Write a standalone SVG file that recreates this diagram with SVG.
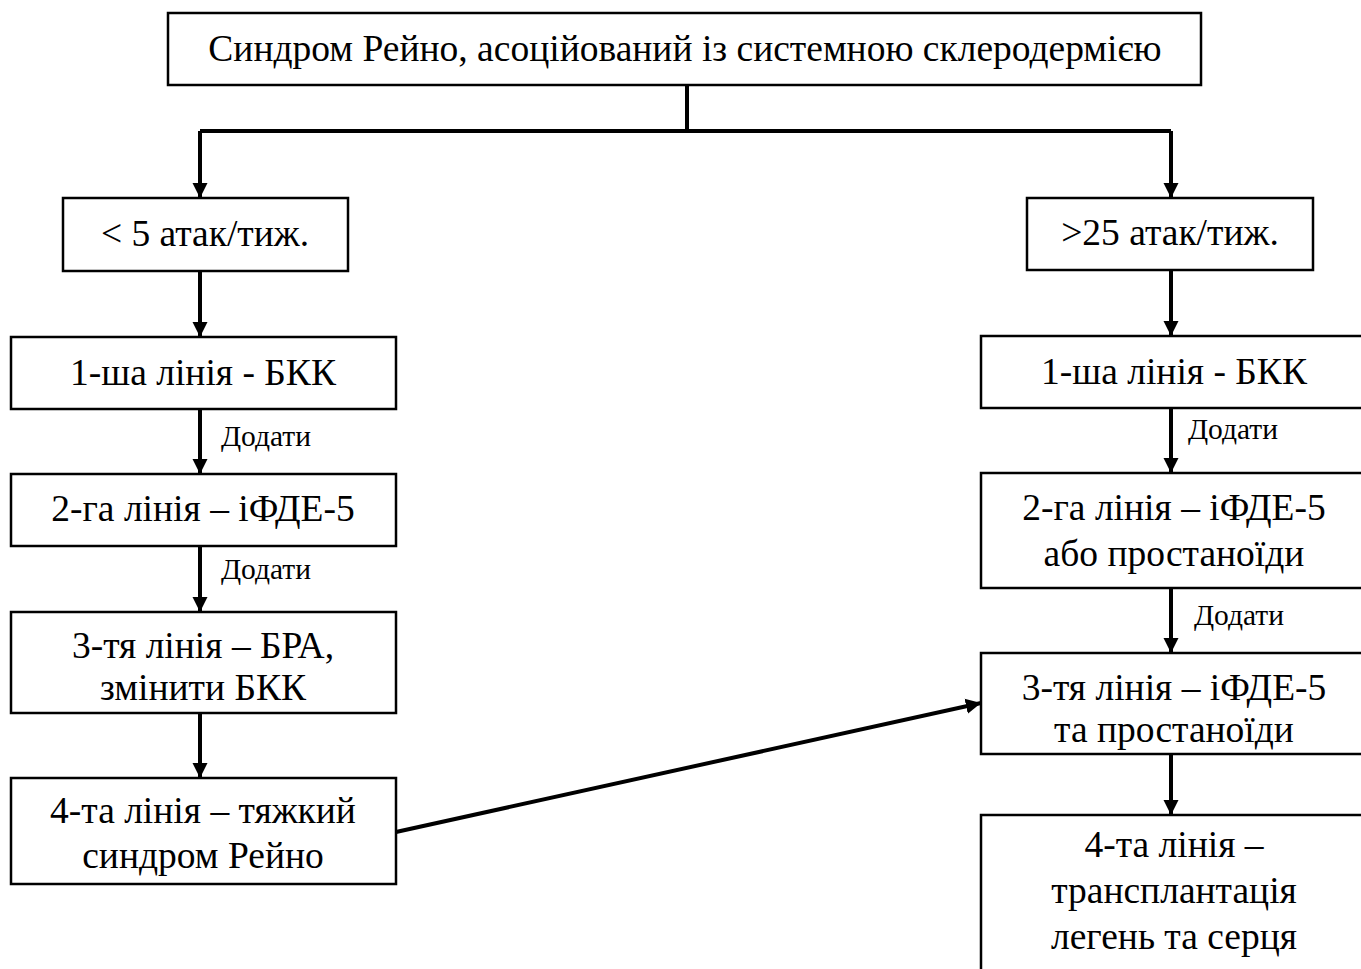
<svg xmlns="http://www.w3.org/2000/svg" width="1361" height="969" viewBox="0 0 1361 969">
<defs>
<style>
.box{fill:#fff;stroke:#000;stroke-width:2.5}
.t{font-family:"Liberation Serif","Times New Roman",serif;font-size:37.5px;fill:#000;text-anchor:middle}
.s{font-family:"Liberation Serif","Times New Roman",serif;font-size:29.5px;fill:#000}
.c{fill:none;stroke:#000;stroke-width:4}
</style>
<marker id="ah" viewBox="0 0 10 10" refX="10" refY="5" markerWidth="3.8" markerHeight="4" markerUnits="strokeWidth" orient="auto">
<path d="M0,0 L10,5 L0,10 z" fill="#000"/>
</marker>
</defs>
<rect width="1361" height="969" fill="#fff"/>
<g id="connectors">
<path class="c" d="M687,85 V131"/>
<path class="c" d="M200,131 H1171"/>
<path class="c" d="M200,131 V198" marker-end="url(#ah)"/>
<path class="c" d="M1171,131 V198" marker-end="url(#ah)"/>
<path class="c" d="M200,271 V337" marker-end="url(#ah)"/>
<path class="c" d="M200,409 V474" marker-end="url(#ah)"/>
<path class="c" d="M200,546 V612" marker-end="url(#ah)"/>
<path class="c" d="M200,713 V778" marker-end="url(#ah)"/>
<path class="c" d="M1171,270 V336" marker-end="url(#ah)"/>
<path class="c" d="M1171,408 V473" marker-end="url(#ah)"/>
<path class="c" d="M1171,588 V653" marker-end="url(#ah)"/>
<path class="c" d="M1171,754 V815" marker-end="url(#ah)"/>
<path class="c" d="M396,832 L981,703" marker-end="url(#ah)"/>
<text class="s" x="221" y="446">Додати</text>
<text class="s" x="221" y="579">Додати</text>
<text class="s" x="1188" y="439">Додати</text>
<text class="s" x="1194" y="625">Додати</text>
</g>
<g id="n-title"><rect class="box" x="168" y="13" width="1033" height="72"/><text class="t" x="685" y="61">Синдром Рейно, асоційований із системною склеродермією</text></g>
<g id="n-l0"><rect class="box" x="63" y="198" width="285" height="73"/><text class="t" x="205" y="246">&lt; 5 атак/тиж.</text></g>
<g id="n-r0"><rect class="box" x="1027" y="198" width="286" height="72"/><text class="t" x="1170" y="245">&gt;25 атак/тиж.</text></g>
<g id="n-l1"><rect class="box" x="11" y="337" width="385" height="72"/><text class="t" x="203" y="385">1-ша лінія - БКК</text></g>
<g id="n-l2"><rect class="box" x="11" y="474" width="385" height="72"/><text class="t" x="203" y="521">2-га лінія – іФДЕ-5</text></g>
<g id="n-l3"><rect class="box" x="11" y="612" width="385" height="101"/><text class="t" x="203" y="658">3-тя лінія – БРА,</text><text class="t" x="203" y="700">змінити БКК</text></g>
<g id="n-l4"><rect class="box" x="11" y="778" width="385" height="106"/><text class="t" x="203" y="823">4-та лінія – тяжкий</text><text class="t" x="203" y="868">синдром Рейно</text></g>
<g id="n-r1"><rect class="box" x="981" y="336" width="390" height="72"/><text class="t" x="1174" y="384">1-ша лінія - БКК</text></g>
<g id="n-r2"><rect class="box" x="981" y="473" width="390" height="115"/><text class="t" x="1174" y="520">2-га лінія – іФДЕ-5</text><text class="t" x="1174" y="566">або простаноїди</text></g>
<g id="n-r3"><rect class="box" x="981" y="653" width="390" height="101"/><text class="t" x="1174" y="700">3-тя лінія – іФДЕ-5</text><text class="t" x="1174" y="742">та простаноїди</text></g>
<g id="n-r4"><rect class="box" x="981" y="815" width="390" height="170"/><text class="t" x="1174" y="857">4-та лінія –</text><text class="t" x="1174" y="903">трансплантація</text><text class="t" x="1174" y="949">легень та серця</text></g>
</svg>
